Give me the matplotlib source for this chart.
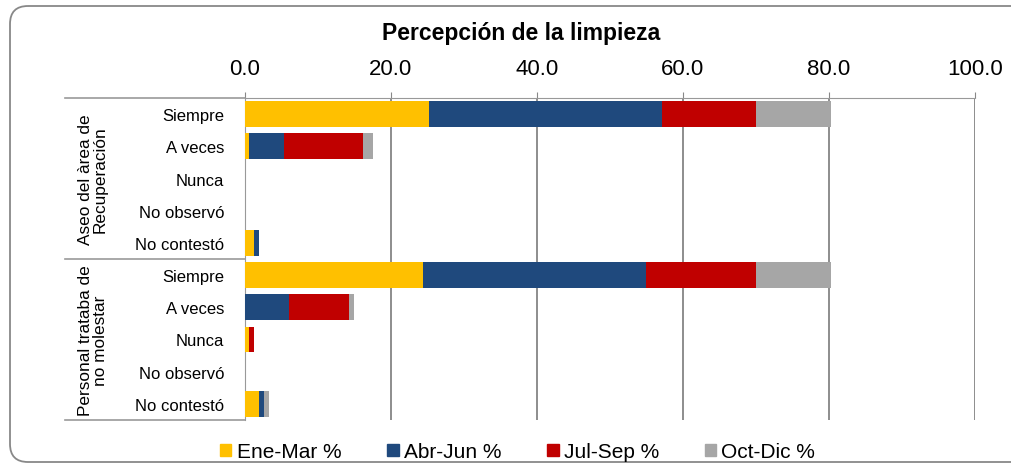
import matplotlib
matplotlib.use('Agg')
import matplotlib.pyplot as plt
import matplotlib.patches as patches
import numpy as np

plt.rcParams['font.family'] = ['Liberation Sans', 'DejaVu Sans']

# data
categorias = ['Siempre', 'A veces', 'Nunca', 'No observó', 'No contestó',
              'Siempre', 'A veces', 'Nunca', 'No observó', 'No contestó']
grupos = ['Aseo del àrea de\nRecuperación', 'Personal trataba de\nno molestar']
series = ['Ene-Mar %', 'Abr-Jun %', 'Jul-Sep %', 'Oct-Dic %']
ene_mar = [25.2, 0.6, 0.0, 0.0, 1.3, 24.4, 0.0, 0.6, 0.0, 1.9]
abr_jun = [31.9, 4.8, 0.0, 0.0, 0.6, 30.6, 6.0, 0.0, 0.0, 0.7]
jul_sep = [12.9, 10.8, 0.0, 0.0, 0.0, 15.0, 8.2, 0.7, 0.0, 0.0]
oct_dic = [10.3, 1.4, 0.0, 0.0, 0.0, 10.3, 0.7, 0.0, 0.0, 0.7]
colores = ['#FFC000', '#1F497D', '#C00000', '#A6A6A6']

fig = plt.figure(figsize=(10.11, 4.64), dpi=100)

# rounded chart border, drawn in pixel units on a background axes
bg = fig.add_axes([0, 0, 1, 1], zorder=-1)
bg.set_xlim(0, 1011)
bg.set_ylim(464, 0)
bg.axis('off')
bg.add_patch(patches.FancyBboxPatch((10, 7), 1040, 456,
    boxstyle='round,pad=0,rounding_size=18', facecolor='none',
    edgecolor='#888888', linewidth=1.3))

ax = fig.add_axes([0.2423, 0.0927, 0.7221, 0.6939])

y = np.arange(len(categorias))
left = np.zeros(len(categorias))
for nombre, vals, col in zip(series, [ene_mar, abr_jun, jul_sep, oct_dic], colores):
    ax.barh(y, vals, left=left, height=0.8, color=col, label=nombre, zorder=3)
    left += np.array(vals)

ax.set_xlim(0, 100)
ax.set_ylim(9.5, -0.5)
ax.set_xticks([0, 20, 40, 60, 80, 100])
ax.set_xticklabels(['0.0', '20.0', '40.0', '60.0', '80.0', '100.0'])
ax.xaxis.tick_top()
ax.tick_params(axis='x', length=4, color='#888888', pad=10, labelsize=16)
ax.set_yticks(y)
ax.set_yticklabels(categorias)
ax.tick_params(axis='y', length=0, pad=15, labelsize=12)
ax.grid(axis='x', color='#858585', linewidth=1.3, zorder=0)

for s in ['bottom', 'right']:
    ax.spines[s].set_visible(False)
ax.spines['top'].set_color('#999999')
ax.spines['left'].set_color('#999999')

# group separators and labels
tr = ax.get_yaxis_transform()
for yy in [-0.5, 4.5, 9.5]:
    ax.plot([-0.247, 0.0], [yy, yy], color='#999999', linewidth=1.2,
            transform=tr, clip_on=False)
for i, g in enumerate(grupos):
    ax.text(-0.208, 2 + 5*i, g, transform=tr, rotation=90, ha='center',
            va='center', fontsize=12.4, linespacing=1.0)

fig.text(0.515, 0.928, 'Percepción de la limpieza', ha='center', va='center',
         fontsize=16.5, fontweight='bold')

handles = [patches.Patch(color=c) for c in colores]
fig.legend(handles, series, loc='center', bbox_to_anchor=(0.512, 0.024), ncol=4,
           frameon=False, fontsize=15, handlelength=0.55, handleheight=0.55,
           handletextpad=0.25, columnspacing=2.2)

fig.savefig('out.png', dpi=100)
